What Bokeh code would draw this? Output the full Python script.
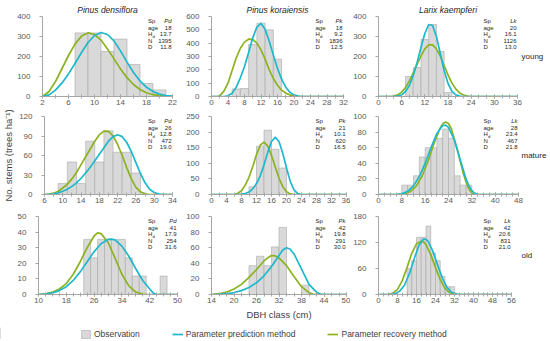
from bokeh.plotting import figure
from bokeh.models import Range1d, FixedTicker, Label, Legend, LegendItem, LinearAxis
from bokeh.layouts import column, row
from bokeh.embed import file_html
from bokeh.resources import INLINE

FONT = "Liberation Sans"
CYAN = "#1DB8CC"
GREEN = "#8CB31F"
BAR_FILL = "#d9d9d9"
BAR_LINE = "#a9a9a9"
AXIS = "#a6a6a6"
TXT = "#595959"
DARK = "#262626"

species = ["Pinus densiflora", "Pinus koraiensis", "Larix kaempferi"]
sp_codes = ["Pd", "Pk", "Lk"]
stages = ["young", "mature", "old"]
class_width = 2

stand_age = [["18", "18", "20"], ["26", "21", "28"], ["41", "42", "42"]]
stand_hd = [["13.7", "9.2", "16.1"], ["12.8", "10.1", "23.4"], ["17.9", "19.8", "20.6"]]
stand_n = [["1395", "1836", "1126"], ["472", "620", "467"], ["254", "291", "831"]]
stand_d = [["11.8", "12.5", "13.0"], ["19.0", "16.5", "21.8"], ["31.6", "30.0", "21.0"]]

x_lims = [[(2, 22), (0, 32), (0, 36)], [(6, 34), (0, 36), (0, 48)], [(10, 50), (14, 50), (0, 56)]]
x_steps = [[4, 4, 6], [4, 4, 8], [8, 6, 8]]
y_max = [[400, 600, 400], [120, 250, 100], [50, 100, 180]]
y_steps = [[100, 100, 100], [30, 50, 20], [10, 20, 60]]

pd_young_bins = [8, 10, 12, 14, 16, 18, 20]
pd_young_obs = [318, 318, 225, 287, 160, 65, 33]
pd_young_pr_x = [2, 3, 4, 5, 6, 7, 8, 9, 10, 11, 12, 13, 14, 15, 16, 17, 18, 19, 20, 21, 22]
pd_young_pr_y = [0, 25, 75, 140, 205, 262, 302, 318, 310, 282, 238, 188, 138, 94, 60, 35, 19, 9, 4, 1, 0]
pd_young_pp_x = [2, 3, 4, 5, 6, 7, 8, 9, 10, 11, 12, 13, 14, 15, 16, 17, 18, 19, 20, 21, 22]
pd_young_pp_y = [0, 8, 32, 68, 113, 165, 220, 270, 305, 320, 310, 278, 228, 172, 120, 78, 46, 25, 12, 5, 1.5]

pk_young_bins = [6, 8, 10, 12, 14, 16]
pk_young_obs = [57, 60, 390, 550, 500, 280]
pk_young_pr_x = [0, 1.5, 2, 3, 4, 5, 6, 7, 8, 9, 10, 11, 12, 13, 14, 15, 16, 17, 18, 19, 20, 21, 22, 32]
pk_young_pr_y = [0, 0, 5, 40, 100, 195, 290, 362, 408, 430, 428, 400, 350, 280, 200, 135, 84, 48, 26, 12, 5, 1.5, 0, 0]
pk_young_pp_x = [0, 3, 4, 5, 6, 7, 8, 9, 10, 11, 12, 13, 14, 15, 16, 17, 18, 19, 20, 21, 22, 32]
pk_young_pp_y = [0, 0, 5, 25, 70, 140, 225, 330, 440, 520, 548, 505, 415, 310, 210, 130, 70, 32, 12, 3, 0, 0]

lk_young_bins = [8, 10, 12, 14, 16, 18]
lk_young_obs = [100, 145, 285, 360, 225, 20]
lk_young_pr_x = [0, 3.5, 5, 6, 7, 8, 9, 10, 11, 12, 13, 14, 15, 16, 17, 18, 19, 20, 21, 22, 23, 24, 36]
lk_young_pr_y = [0, 0, 8, 22, 45, 78, 118, 160, 203, 238, 258, 258, 238, 202, 155, 108, 68, 38, 18, 7, 2, 0, 0]
lk_young_pp_x = [0, 4, 5, 6, 7, 8, 9, 10, 11, 12, 13, 14, 15, 16, 17, 18, 19, 20, 21, 22, 36]
lk_young_pp_y = [0, 0, 2, 8, 25, 55, 105, 170, 245, 315, 360, 355, 300, 215, 130, 65, 27, 8, 2, 0, 0]

pd_mature_bins = [10, 12, 14, 16, 18, 20, 22, 24, 26]
pd_mature_obs = [17, 50, 17, 82, 50, 98, 65, 65, 33]
pd_mature_pr_x = [6, 7, 8, 9, 10, 11, 12, 13, 14, 15, 16, 17, 18, 19, 20, 21, 22, 23, 24, 25, 26, 27, 28, 29, 34]
pd_mature_pr_y = [0, 0.5, 2, 5, 10, 16, 24, 34, 46, 58, 70, 82, 92, 97.5, 97, 90, 77, 60, 41, 24, 11, 4, 1, 0, 0]
pd_mature_pp_x = [6, 7, 8, 9, 10, 11, 12, 13, 14, 15, 16, 17, 18, 19, 20, 21, 22, 23, 24, 25, 26, 27, 28, 29, 30, 31, 32, 34]
pd_mature_pp_y = [0, 0.3, 1, 2.5, 5, 8, 12.5, 18, 25, 33, 42, 52, 62, 72, 82, 89, 92, 89, 80, 66, 49, 32, 18, 8, 3, 0.7, 0, 0]

pk_mature_bins = [11, 13, 15, 17, 19]
pk_mature_obs = [25, 155, 206, 145, 85]
pk_mature_pr_x = [0, 6, 7, 8, 9, 10, 11, 12, 13, 14, 15, 16, 17, 18, 19, 20, 21, 22, 36]
pk_mature_pr_y = [0, 0, 4, 12, 30, 55, 90, 128, 158, 168, 155, 125, 88, 52, 25, 9, 2, 0, 0]
pk_mature_pp_x = [0, 7, 8, 9, 10, 11, 12, 13, 14, 15, 16, 17, 18, 19, 20, 21, 22, 23, 24, 36]
pk_mature_pp_y = [0, 0, 1, 3, 8, 18, 35, 60, 95, 135, 170, 183, 170, 132, 85, 42, 15, 3, 0, 0]

lk_mature_bins = [9, 11, 13, 15, 17, 19, 21, 23, 25, 27, 29, 31]
lk_mature_obs = [12, 12, 24, 48, 60, 60, 72, 84, 72, 24, 12, 12]
lk_mature_pr_x = [0, 7, 9, 11, 13, 15, 17, 19, 21, 22, 23, 24, 25, 27, 29, 30, 31, 32, 33, 48]
lk_mature_pr_y = [0, 0, 1, 4, 11, 24, 43, 65, 84, 90.5, 93, 91, 84, 58, 28, 16, 7, 2, 0, 0]
lk_mature_pp_x = [0, 6, 8, 10, 12, 14, 16, 18, 20, 22, 23, 24, 26, 28, 30, 31, 32, 33, 34, 48]
lk_mature_pp_y = [0, 0, 1, 4, 11, 23, 40, 60, 78, 88.5, 89, 86, 70, 45, 20, 11, 5, 1.5, 0, 0]

pd_old_bins = [24, 26, 28, 30, 32, 34, 36, 38, 40, 46]
pd_old_obs = [35.3, 23.5, 35.3, 35.3, 35.3, 35.3, 23.5, 11.8, 11.8, 11.8]
pd_old_pr_x = [10, 12, 14, 16, 18, 20, 22, 24, 26, 27, 28, 30, 32, 34, 36, 38, 40, 41, 50]
pd_old_pr_y = [0, 0.5, 1.5, 3.5, 7, 13, 21, 30, 37.5, 39.5, 39, 33.5, 23.5, 13, 5.5, 1.5, 0.3, 0, 0]
pd_old_pp_x = [10, 12, 14, 16, 18, 20, 22, 24, 26, 28, 30, 31, 32, 34, 36, 38, 40, 42, 43, 44, 50]
pd_old_pp_y = [0, 0.3, 1, 2.5, 5, 9, 14.5, 21, 27.5, 32.5, 35.3, 35.5, 35, 31, 24.5, 16.5, 9, 3.5, 1, 0, 0]

pk_old_bins = [25, 27, 29, 31, 33, 39]
pk_old_obs = [37, 49, 37, 61, 86, 12]
pk_old_pr_x = [14, 16, 18, 20, 22, 24, 26, 28, 29, 30, 31, 32, 34, 36, 38, 40, 41, 42, 50]
pk_old_pr_y = [0, 1, 3, 7, 13, 22, 32, 43, 47, 50, 49.5, 47, 37, 23, 10, 2.5, 0.5, 0, 0]
pk_old_pp_x = [14, 16, 18, 20, 22, 24, 26, 28, 30, 32, 33, 34, 35, 36, 38, 40, 42, 43, 44, 50]
pk_old_pp_y = [0, 0.3, 1, 2.5, 5, 9, 15, 24, 36, 50, 57, 60, 58, 52, 33, 13, 3, 0.5, 0, 0]

lk_old_bins = [13, 15, 17, 19, 21, 23, 25, 27, 29, 31]
lk_old_obs = [60, 78, 132, 132, 158, 96, 78, 42, 18, 18]
lk_old_pr_x = [0, 4, 6, 8, 10, 12, 14, 16, 18, 19, 20, 22, 24, 26, 28, 30, 32, 33, 56]
lk_old_pr_y = [0, 0, 3, 12, 32, 62, 95, 117, 123, 121, 115, 92, 62, 34, 14, 4, 0.7, 0, 0]
lk_old_pp_x = [0, 5, 7, 9, 11, 13, 15, 17, 19, 20, 21, 23, 25, 27, 29, 31, 33, 34, 56]
lk_old_pp_y = [0, 0, 2, 8, 22, 48, 82, 113, 128, 127, 122, 98, 66, 36, 15, 4.5, 0.8, 0, 0]

panel_data = [
    [(pd_young_bins, pd_young_obs, pd_young_pp_x, pd_young_pp_y, pd_young_pr_x, pd_young_pr_y),
     (pk_young_bins, pk_young_obs, pk_young_pp_x, pk_young_pp_y, pk_young_pr_x, pk_young_pr_y),
     (lk_young_bins, lk_young_obs, lk_young_pp_x, lk_young_pp_y, lk_young_pr_x, lk_young_pr_y)],
    [(pd_mature_bins, pd_mature_obs, pd_mature_pp_x, pd_mature_pp_y, pd_mature_pr_x, pd_mature_pr_y),
     (pk_mature_bins, pk_mature_obs, pk_mature_pp_x, pk_mature_pp_y, pk_mature_pr_x, pk_mature_pr_y),
     (lk_mature_bins, lk_mature_obs, lk_mature_pp_x, lk_mature_pp_y, lk_mature_pr_x, lk_mature_pr_y)],
    [(pd_old_bins, pd_old_obs, pd_old_pp_x, pd_old_pp_y, pd_old_pr_x, pd_old_pr_y),
     (pk_old_bins, pk_old_obs, pk_old_pp_x, pk_old_pp_y, pk_old_pr_x, pk_old_pr_y),
     (lk_old_bins, lk_old_obs, lk_old_pp_x, lk_old_pp_y, lk_old_pr_x, lk_old_pr_y)],
]

# ---- layout (page pixels; Bokeh's page has no body margin)
fig_left = [0, 183, 350]
fig_right = [183, 350, 550]
frame_left = [[42, 210, 376], [42, 209, 376], [38, 210, 376]]
frame_right = [[172, 343, 517], [172, 346, 518], [177, 346, 511]]
frame_h = [80, 78, 78]
top_border = [16, 7, 9]
bottom_border = [13, 13, 33]
anno_right = [176, 346.5, 517]
anno_left = [147.5, 315, 483]
row_label_left = 521


def make_panel(r, c):
    x0, x1 = x_lims[r][c]
    ym = y_max[r][c]
    fl, fr = frame_left[r][c], frame_right[r][c]
    kw = dict(title=species[c]) if r == 0 else dict(title=None)
    p = figure(width=fig_right[c] - fig_left[c], height=top_border[r] + frame_h[r] + bottom_border[r],
               x_range=Range1d(x0, x1), y_range=Range1d(0, ym),
               min_border_left=fl - fig_left[c], min_border_right=fig_right[c] - fr,
               min_border_top=top_border[r], min_border_bottom=bottom_border[r],
               output_backend="svg", toolbar_location=None, tools="", **kw)
    p.outline_line_color = None
    p.xgrid.visible = False
    p.ygrid.visible = False
    if r == 0:
        p.title.text_font = FONT
        p.title.text_font_style = "italic"
        p.title.text_font_size = "8.5px"
        p.title.text_color = DARK
        p.title.align = "center"
        p.title.standoff = 4
        p.title.offset = 0

    bins, obs, ppx, ppy, prx, pry = panel_data[r][c]
    p.vbar(x=bins, width=class_width, top=obs, bottom=0,
           fill_color=BAR_FILL, line_color=BAR_LINE, line_width=0.6)
    p.line(prx, pry, line_color=GREEN, line_width=1.7, line_join="round")
    p.line(ppx, ppy, line_color=CYAN, line_width=1.7, line_join="round")

    xs = x_steps[r][c]
    xa = p.xaxis[0]
    xa.ticker = FixedTicker(ticks=list(range(x0, x1 + 1, xs)),
                            minor_ticks=list(range(x0, x1 + 1, 2)))
    xa.axis_line_color = AXIS
    xa.major_tick_line_color = AXIS
    xa.minor_tick_line_color = AXIS
    xa.major_tick_in = 2
    xa.major_tick_out = 2
    xa.minor_tick_in = 2
    xa.minor_tick_out = 2
    xa.major_label_standoff = 1
    xa.major_label_text_font = FONT
    xa.major_label_text_font_size = "8px"
    xa.major_label_text_color = TXT

    ya = p.yaxis[0]
    ya.ticker = FixedTicker(ticks=list(range(0, ym + 1, y_steps[r][c])))
    ya.axis_line_color = AXIS
    ya.major_tick_line_color = AXIS
    ya.minor_tick_line_color = None
    ya.major_tick_in = 0
    ya.major_tick_out = 3
    ya.major_label_standoff = 9
    ya.major_label_text_font = FONT
    ya.major_label_text_font_size = "8px"
    ya.major_label_text_color = TXT

    if r == 1 and c == 0:
        ya.axis_label = "No. stems (trees ha\u207b\u00b9)"
        ya.axis_label_text_font = FONT
        ya.axis_label_text_font_size = "9.5px"
        ya.axis_label_text_font_style = "normal"
        ya.axis_label_text_color = "#404040"
        ya.axis_label_standoff = 2
    if r == 2 and c == 1:
        xa.axis_label = "DBH class (cm)"
        xa.axis_label_text_font = FONT
        xa.axis_label_text_font_size = "9.4px"
        xa.axis_label_text_font_style = "normal"
        xa.axis_label_text_color = "#404040"
        xa.axis_label_standoff = 3

    if c == 2:
        # stand-age class written to the right of the row, as the title of an unticked right axis
        side = LinearAxis(ticker=FixedTicker(ticks=[]), axis_label=stages[r],
                          axis_label_orientation="horizontal",
                          axis_label_standoff=row_label_left - fr,
                          axis_label_text_font=FONT, axis_label_text_font_size="8px",
                          axis_label_text_font_style="normal", axis_label_text_color=DARK,
                          axis_line_color=None, major_tick_line_color=None,
                          minor_tick_line_color=None, major_tick_in=0, major_tick_out=0,
                          major_label_standoff=0, major_label_text_font_size="0px")
        p.add_layout(side, "right")

    # stand information box (kept inside the plot frame)
    right_px = min(anno_right[c], fr - 1)
    names = ["Sp", "age", "H", "N", "D"]
    vals = [sp_codes[c], stand_age[r][c], stand_hd[r][c], stand_n[r][c], stand_d[r][c]]
    for i, (nm, vv) in enumerate(zip(names, vals)):
        yo = -(4.7 + 6.5 * i)
        p.add_layout(Label(x=x1, y=ym, x_offset=anno_left[c] - fr, y_offset=yo, text=nm,
                           text_font=FONT, text_font_size="6px", text_color=DARK,
                           text_align="left", text_baseline="middle"))
        p.add_layout(Label(x=x1, y=ym, x_offset=right_px - fr, y_offset=yo, text=vv,
                           text_font=FONT, text_font_size="6px", text_color=DARK,
                           text_font_style="italic" if i == 0 else "normal",
                           text_align="right", text_baseline="middle"))
        if nm == "H":
            p.add_layout(Label(x=x1, y=ym, x_offset=anno_left[c] - fr + 4.4, y_offset=yo - 1.8,
                               text="d", text_font=FONT, text_font_size="4.2px", text_color=DARK,
                               text_align="left", text_baseline="middle"))
    return p


rows = []
for r in range(3):
    rows.append(row(*[make_panel(r, c) for c in range(3)]))

# legend strip
lf = figure(width=550, height=12, x_range=Range1d(0, 1), y_range=Range1d(0, 1),
            x_axis_type=None, y_axis_type=None, min_border=0, title=None,
            output_backend="svg", toolbar_location=None, tools="")
lf.outline_line_color = None
# legend keys: renderers whose single item lies outside the visible range
r_obs = lf.vbar(x=[-5], top=[1], width=1, fill_color=BAR_FILL, line_color=BAR_LINE, line_width=0.6)
r_pp = lf.line(x=[-6, -5], y=[0.5, 0.5], line_color=CYAN, line_width=1.7)
r_pr = lf.line(x=[-6, -5], y=[0.5, 0.5], line_color=GREEN, line_width=1.7)
leg = Legend(items=[LegendItem(label="Observation", renderers=[r_obs]),
                    LegendItem(label="Parameter prediction method", renderers=[r_pp]),
                    LegendItem(label="Parameter recovery method", renderers=[r_pr])],
             orientation="horizontal", location=(80, 0),
             glyph_width=11, glyph_height=10, label_standoff=3, spacing=32,
             padding=0, margin=0, border_line_alpha=0, background_fill_alpha=0,
             label_text_font=FONT, label_text_font_size="8.5px", label_text_color="#404040",
             label_height=10)
lf.add_layout(leg)

layout = column(*rows, lf)
open("out.html", "w").write(file_html(layout, INLINE))
